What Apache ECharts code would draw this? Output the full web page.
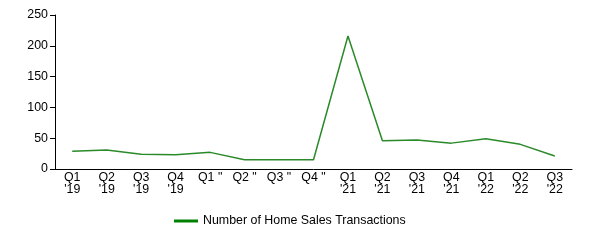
<!DOCTYPE html>
<html><head><meta charset="utf-8">
<script src="https://cdn.jsdelivr.net/npm/echarts@6/dist/echarts.min.js"></script>
<style>html,body{margin:0;padding:0;background:#fff}#c{width:590px;height:240px}</style>
</head><body><div id="c"></div>
<script>
var categories = ["Q1\n'19","Q2\n'19","Q3\n'19","Q4\n'19","Q1 \"","Q2 \"","Q3 \"","Q4 \"","Q1\n'21","Q2\n'21","Q3\n'21","Q4\n'21","Q1\n'22","Q2\n'22","Q3\n'22"];
var transactions = [29,31,24,23,27,15,15,15,216,46,47,42,49,40,21];
var yTicks = [0,50,100,150,200,250];
var seriesName = "Number of Home Sales Transactions";

var chart = echarts.init(document.getElementById('c'));
chart.setOption({
  animation:false,
  textStyle:{fontFamily:'Liberation Sans, Arial, sans-serif'},
  grid:{left:55,right:18,top:15,bottom:71},
  legend:{top:210,left:169,itemWidth:24,itemHeight:3,icon:'rect',itemGap:10,
    textStyle:{color:'#000',fontSize:12.4,fontFamily:'Liberation Sans, Arial, sans-serif'},
    data:[seriesName]},
  xAxis:{type:'category',data:categories,boundaryGap:true,
    axisLine:{lineStyle:{color:'#000',width:1}},axisTick:{show:false},
    axisLabel:{color:'#000',fontSize:12.4,interval:0,margin:3,lineHeight:12}},
  yAxis:{type:'value',min:yTicks[0],max:yTicks[yTicks.length-1],interval:50,
    axisLine:{show:true,lineStyle:{color:'#000',width:1}},
    axisTick:{show:true,length:5,lineStyle:{color:'#000'}},
    splitLine:{show:false},
    axisLabel:{color:'#000',fontSize:12.4,margin:7}},
  series:[{name:seriesName,type:'line',data:transactions,symbol:'none',
    lineStyle:{color:'#2a8a2a',width:1.5},itemStyle:{color:'#008000'}}]
});
</script></body></html>
